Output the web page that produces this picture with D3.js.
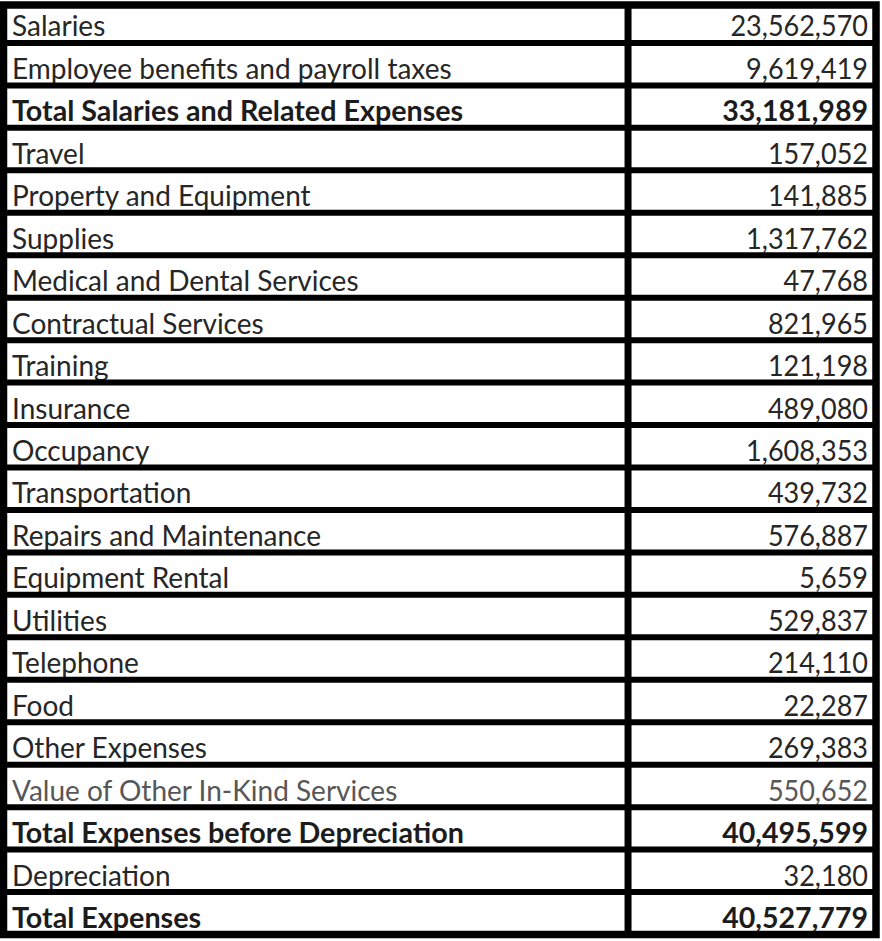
<!DOCTYPE html>
<html>
<head>
<meta charset="utf-8">
<script src="https://cdn.jsdelivr.net/npm/d3@7"></script>
<style>
  html, body { margin: 0; padding: 0; background: #fff; }
  svg { display: block; }
</style>
</head>
<body>
<div id="chart"></div>
<script>
// ---- data ----
const categories = [
  "Salaries",
  "Employee benefits and payroll taxes",
  "Total Salaries and Related Expenses",
  "Travel",
  "Property and Equipment",
  "Supplies",
  "Medical and Dental Services",
  "Contractual Services",
  "Training",
  "Insurance",
  "Occupancy",
  "Transportation",
  "Repairs and Maintenance",
  "Equipment Rental",
  "Utilities",
  "Telephone",
  "Food",
  "Other Expenses",
  "Value of Other In-Kind Services",
  "Total Expenses before Depreciation",
  "Depreciation",
  "Total Expenses"
];
const amounts = [
  23562570, 9619419, 33181989, 157052, 141885, 1317762, 47768, 821965,
  121198, 489080, 1608353, 439732, 576887, 5659, 529837, 214110, 22287,
  269383, 550652, 40495599, 32180, 40527779
];
const totalRows = [
  "Total Salaries and Related Expenses",
  "Total Expenses before Depreciation",
  "Total Expenses"
];
const inKindRows = ["Value of Other In-Kind Services"];

// ---- layout ----
const W = 882, H = 941;
const svg = d3.select("#chart").append("svg")
  .attr("width", W).attr("height", H);

const y = d3.scaleBand().domain(categories).range([0.5, 934.5]).padding(0);
const x = d3.scaleLinear().domain([0, 1]).range([3.5, 876]);
const colSplit = 0.7158;
const fmt = d3.format(",");

svg.append("rect").attr("width", W).attr("height", H).attr("fill", "#fff");

const rows = svg.append("g").selectAll("g").data(categories).join("g");
const isTotal = d => totalRows.includes(d);

function colorFor(d) {
  if (isTotal(d)) return "#1c1c1c";
  if (inKindRows.includes(d)) return "#575757";
  return "#262626";
}

const fontFamily = "Lato, 'Open Sans', sans-serif";
const fontSize = 28;

const labels = rows.append("text")
  .attr("font-family", fontFamily)
  .attr("font-size", fontSize)
  .attr("font-weight", d => isTotal(d) ? 700 : 400)
  .attr("fill", colorFor)
  .text(d => d);

const values = rows.append("text")
  .attr("font-family", fontFamily)
  .attr("font-size", fontSize)
  .attr("font-weight", d => isTotal(d) ? 700 : 400)
  .attr("fill", colorFor)
  .attr("text-anchor", "end")
  .text((d, i) => fmt(amounts[i]));

// horizontal condensing to approximate the narrow spreadsheet font
const refNode = labels.filter(d => d === "Employee benefits and payroll taxes").node();
const sx = Math.min(1, 449 / refNode.getComputedTextLength());
const sxLabel = d => isTotal(d) ? sx * 1.025 : sx;
const sxValue = d => isTotal(d) ? sx * 1.02 : sx * 0.965;

labels.attr("transform", d => `translate(12,${y(d) + y.bandwidth() - 6.5}) scale(${sxLabel(d)},1)`);
values.attr("transform", d => `translate(868,${y(d) + y.bandwidth() - 6.5}) scale(${sxValue(d)},1)`);

// grid lines
const grid = svg.append("g").attr("stroke", "#000");
categories.slice(0, -1).forEach(c => {
  grid.append("line")
    .attr("x1", x(0)).attr("x2", x(1))
    .attr("y1", y(c) + y.bandwidth()).attr("y2", y(c) + y.bandwidth())
    .attr("stroke-width", 6);
});
// column divider
grid.append("line")
  .attr("x1", x(colSplit)).attr("x2", x(colSplit))
  .attr("y1", 5).attr("y2", 934.5)
  .attr("stroke-width", 7);
// outer border
grid.append("rect")
  .attr("x", x(0)).attr("y", 5)
  .attr("width", x(1) - x(0)).attr("height", 934.5 - 5)
  .attr("fill", "none")
  .attr("stroke-width", 7.5);
</script>
</body>
</html>
